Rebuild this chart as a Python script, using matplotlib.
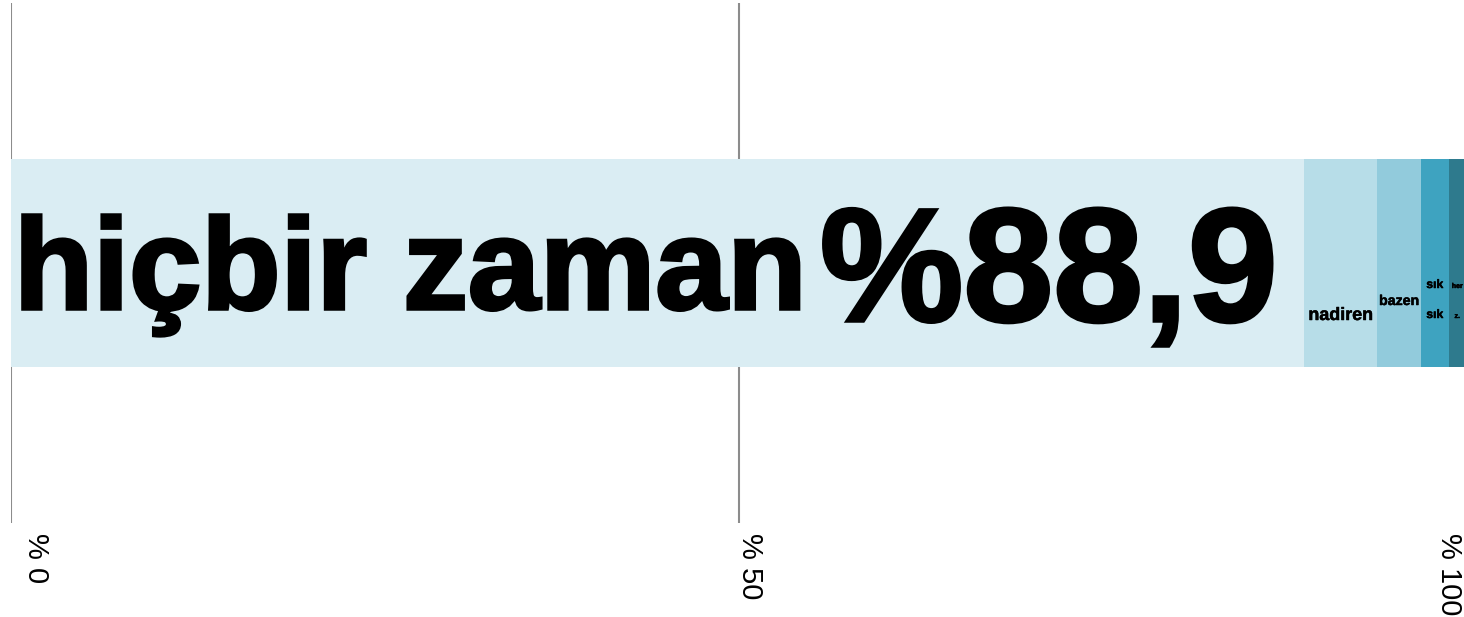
import matplotlib.pyplot as plt
import matplotlib.transforms as mtransforms
import matplotlib.patheffects as pe

categories = ["hiçbir zaman", "nadiren", "bazen", "sık sık", "her zaman"]
values = [88.9, 5.0, 3.0, 1.9, 1.2]
# what fits inside each segment (the last one is cut short in the original)
shown = ["hiçbir zaman", "nadiren", "bazen", "sık\nsık", "her\nz."]
colors = ["#daedf3", "#b7dde8", "#92cbdc", "#3ea3c0", "#2e7a8d"]
tick_vals = [0, 50, 100]
tick_labels = ["% 0", "% 50", "% 100"]

W, H = 1464, 617
fig = plt.figure(figsize=(W / 100, H / 100), dpi=100)
ax = fig.add_axes([11 / W, 94 / H, (1466 - 11) / W, 520 / H])
ax.set_xlim(0, 100)
ax.set_ylim(0, 1)

ax.set_xticks(tick_vals)
ax.xaxis.grid(True, color="#8c8c8c", lw=1.5, zorder=0)
ax.set_axisbelow(True)
ax.tick_params(length=0, labelbottom=False, labelleft=False)
for s in ax.spines.values():
    s.set_visible(False)

# one stacked bar
left = 0
for v, c in zip(values, colors):
    ax.barh(0.5, v, left=left, height=0.4, color=c, zorder=2)
    left += v

bold = dict(family="Liberation Sans", fontweight="bold", color="black", zorder=3)
fig.canvas.draw()
rend = fig.canvas.get_renderer()


def ay(py):
    # pixel row from top -> axes fraction
    return (523 - py) / 520


def fit(t, width_px):
    # scale the font so the text box is width_px wide
    for _ in range(3):
        w = t.get_window_extent(rend).width
        t.set_fontsize(t.get_fontsize() * width_px / w)


def thicken(t, px):
    t.set_path_effects([pe.withStroke(linewidth=px * 0.72, foreground="black",
                                      joinstyle="miter", capstyle="butt")])


# main segment: name plus big percentage
t1 = ax.text(0.2, ay(309), categories[0], ha="left", va="baseline",
             fontsize=90, **bold)
fit(t1, 792)
thicken(t1, 3.5)
x_end = t1.get_window_extent(rend).x1
x_pct = ax.transData.inverted().transform((x_end + 14, 0))[0]
t2 = ax.text(x_pct, ay(321), "%" + f"{values[0]:.1f}".replace(".", ","),
             ha="left", va="baseline", fontsize=110, **bold)
fit(t2, 458)
thicken(t2, 3.5)

# small segments, names only
starts = [sum(values[:i]) for i in range(len(values))]
small = [
    (1, [320], 65),
    (2, [305], 40),
    (3, [288, 318], 17),
    (4, [288, 318], 11),
]
for i, rows, wpx in small:
    cx = starts[i] + values[i] / 2
    size = None
    for line, py in zip(shown[i].split("\n"), rows):
        t = ax.text(cx, ay(py), line, ha="center", va="baseline",
                    fontsize=size or 10, **bold)
        if size is None:
            fit(t, wpx)
            size = t.get_fontsize()
        thicken(t, 0.5)

# rotated tick labels under the grid lines
offsets = [25, 12, -17]
base = mtransforms.blended_transform_factory(ax.transData, ax.transAxes)
for v, lab, dx in zip(tick_vals, tick_labels, offsets):
    tr = mtransforms.offset_copy(base, fig=fig, x=dx, y=-10, units="dots")
    ax.text(v, 0, lab, transform=tr, rotation=-90, ha="center", va="top",
            fontsize=21, family="Liberation Sans", clip_on=False)

fig.savefig("out.png", dpi=100)
